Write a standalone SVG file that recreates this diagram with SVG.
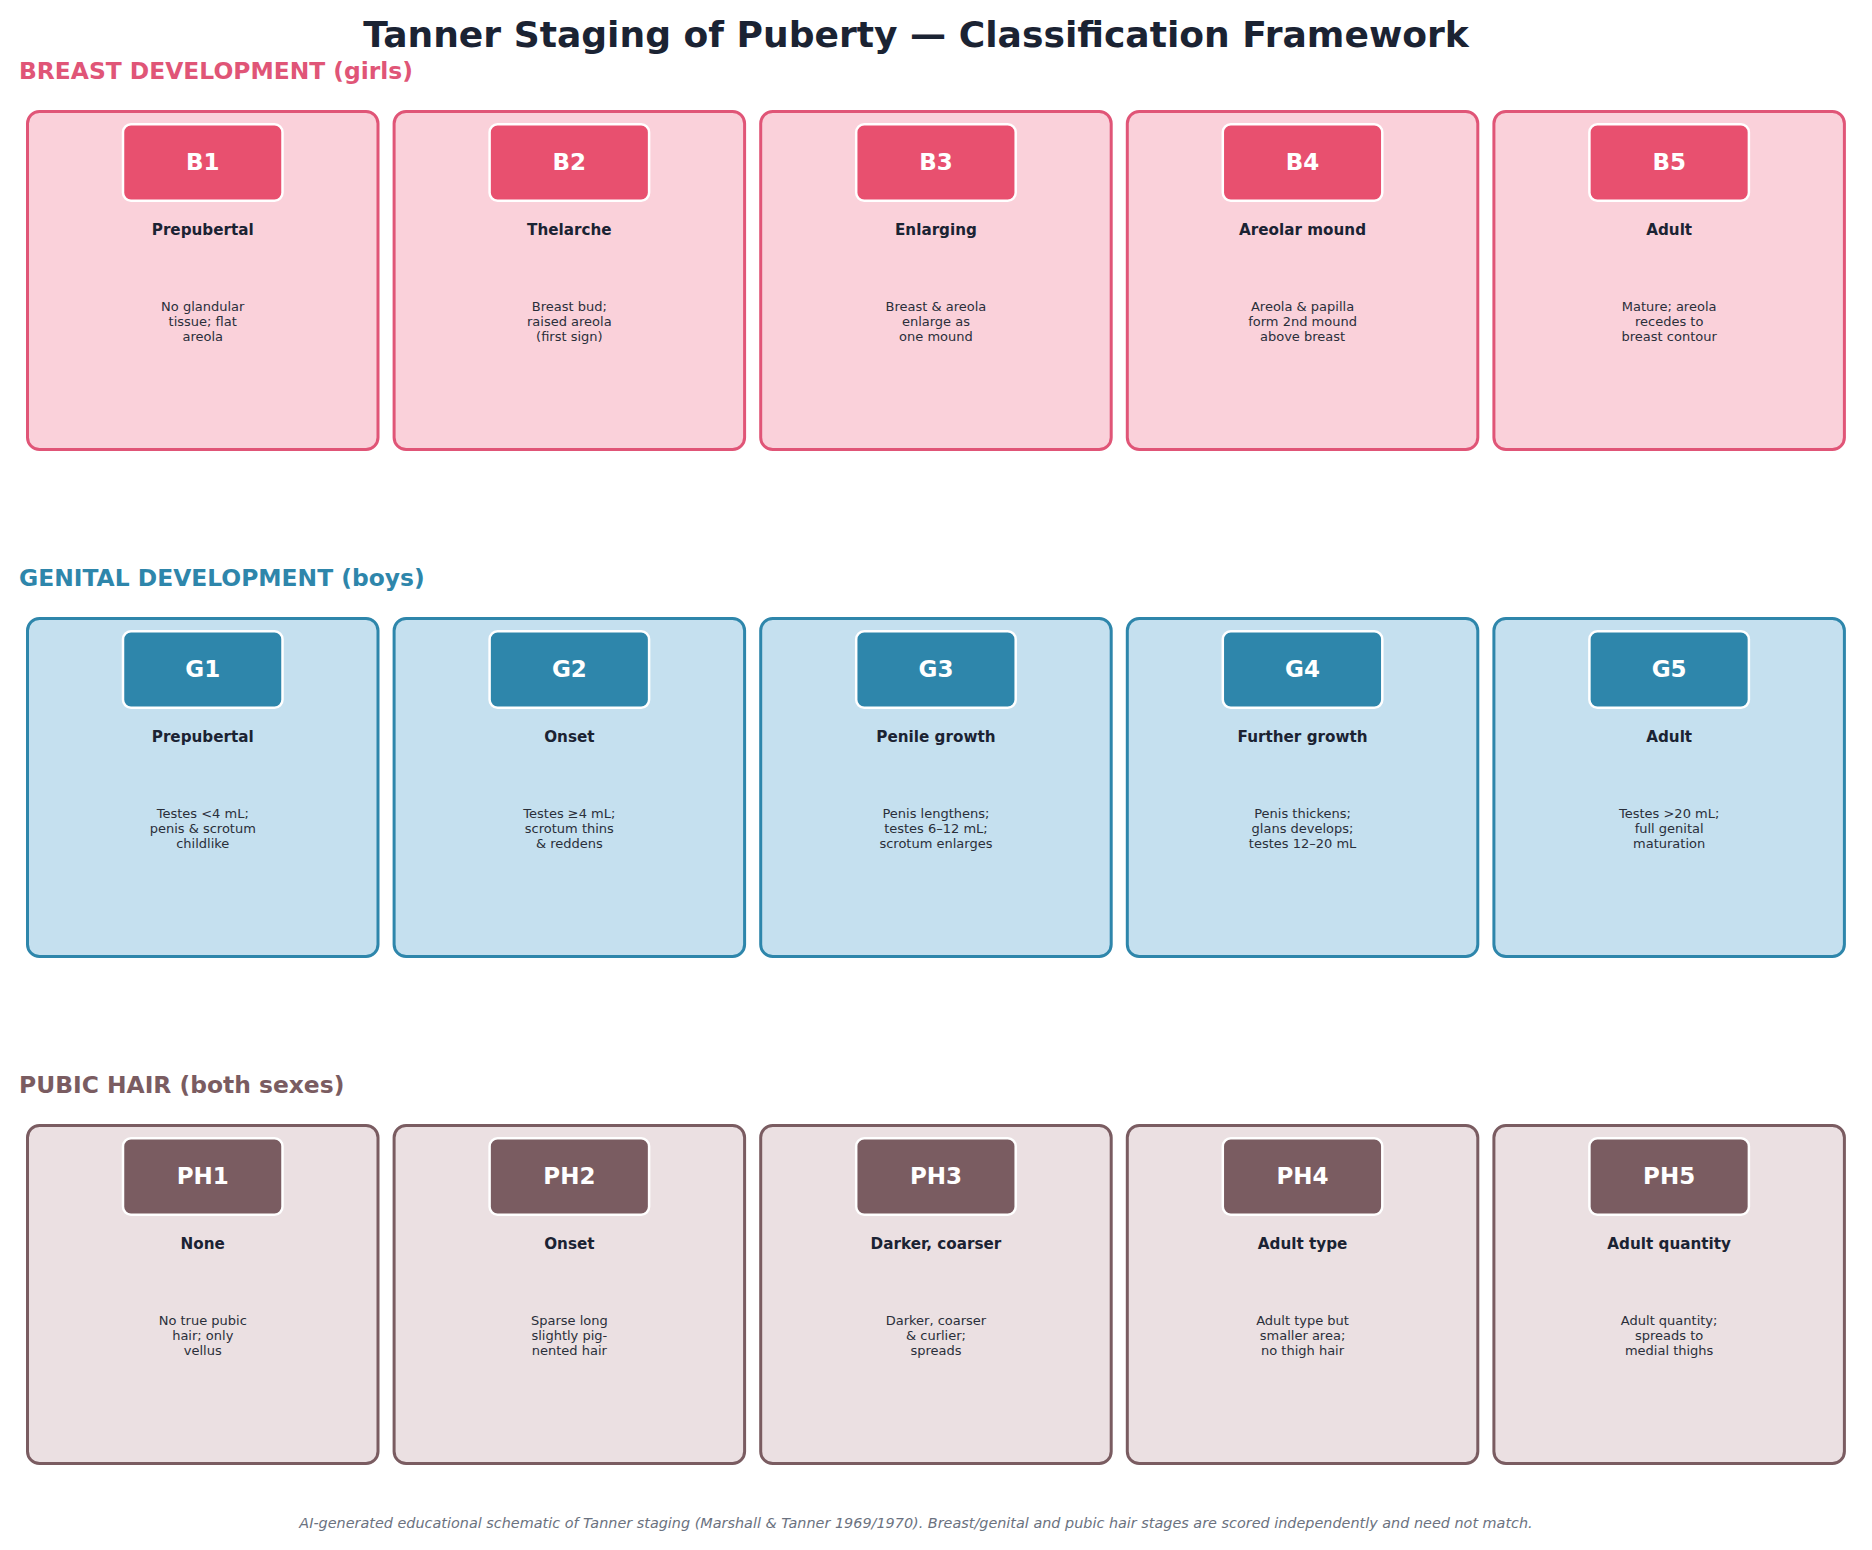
<svg xmlns="http://www.w3.org/2000/svg" width="1872" height="1550" viewBox="0 0 1872 1550">
<style>
text{font-family:"DejaVu Sans","Liberation Sans",sans-serif;text-anchor:middle}
.title{font-size:36.1px;font-weight:bold;fill:#1b2333}
.sec{font-size:23.4px;font-weight:bold;text-anchor:start}
.badge{stroke:#ffffff;stroke-width:2.5}
.btxt{font-size:23px;font-weight:bold;fill:#ffffff}
.stage{font-size:15.2px;font-weight:bold;fill:#1b2333}
.desc{font-size:13px;fill:#2a2f3a}
.foot{font-size:14.4px;font-style:italic;fill:#6b7280}
.card{stroke-width:3}
.pk .card{fill:#fad1da;stroke:#e05577}
.pk .badge{fill:#e8506f}
.bl .card{fill:#c5e0ef;stroke:#2e86ab}
.bl .badge{fill:#2e86ab}
.br .card{fill:#ebe0e2;stroke:#7a5c61}
.br .badge{fill:#7a5c61}
</style>
<rect width="1872" height="1550" fill="#ffffff"/>
<text class="title" x="916" y="47">Tanner Staging of Puberty — Classification Framework</text>

<text class="sec" x="19" y="79" fill="#e05577">BREAST DEVELOPMENT (girls)</text>
<text class="sec" x="19" y="586" fill="#2e86ab">GENITAL DEVELOPMENT (boys)</text>
<text class="sec" x="19" y="1093" fill="#7a5c61">PUBIC HAIR (both sexes)</text>

<g id="connectors"></g>

<!-- Breast row -->
<g class="pk">
<g id="B1"><rect class="card" x="27.5" y="111.5" width="350.5" height="338" rx="12"/><rect class="badge" x="123" y="124.25" width="159.5" height="76.5" rx="8"/><text class="btxt" x="202.75" y="170">B1</text><text class="stage" x="202.75" y="235">Prepubertal</text><text class="desc" x="202.75" y="311">No glandular</text><text class="desc" x="202.75" y="326">tissue; flat</text><text class="desc" x="202.75" y="341">areola</text></g>
<g id="B2"><rect class="card" x="394.1" y="111.5" width="350.5" height="338" rx="12"/><rect class="badge" x="489.6" y="124.25" width="159.5" height="76.5" rx="8"/><text class="btxt" x="569.35" y="170">B2</text><text class="stage" x="569.35" y="235">Thelarche</text><text class="desc" x="569.35" y="311">Breast bud;</text><text class="desc" x="569.35" y="326">raised areola</text><text class="desc" x="569.35" y="341">(first sign)</text></g>
<g id="B3"><rect class="card" x="760.7" y="111.5" width="350.5" height="338" rx="12"/><rect class="badge" x="856.2" y="124.25" width="159.5" height="76.5" rx="8"/><text class="btxt" x="935.95" y="170">B3</text><text class="stage" x="935.95" y="235">Enlarging</text><text class="desc" x="935.95" y="311">Breast &amp; areola</text><text class="desc" x="935.95" y="326">enlarge as</text><text class="desc" x="935.95" y="341">one mound</text></g>
<g id="B4"><rect class="card" x="1127.3" y="111.5" width="350.5" height="338" rx="12"/><rect class="badge" x="1222.8" y="124.25" width="159.5" height="76.5" rx="8"/><text class="btxt" x="1302.55" y="170">B4</text><text class="stage" x="1302.55" y="235">Areolar mound</text><text class="desc" x="1302.55" y="311">Areola &amp; papilla</text><text class="desc" x="1302.55" y="326">form 2nd mound</text><text class="desc" x="1302.55" y="341">above breast</text></g>
<g id="B5"><rect class="card" x="1493.9" y="111.5" width="350.5" height="338" rx="12"/><rect class="badge" x="1589.4" y="124.25" width="159.5" height="76.5" rx="8"/><text class="btxt" x="1669.15" y="170">B5</text><text class="stage" x="1669.15" y="235">Adult</text><text class="desc" x="1669.15" y="311">Mature; areola</text><text class="desc" x="1669.15" y="326">recedes to</text><text class="desc" x="1669.15" y="341">breast contour</text></g>
</g>

<!-- Genital row -->
<g class="bl">
<g id="G1"><rect class="card" x="27.5" y="618.5" width="350.5" height="338" rx="12"/><rect class="badge" x="123" y="631.25" width="159.5" height="76.5" rx="8"/><text class="btxt" x="202.75" y="677">G1</text><text class="stage" x="202.75" y="742">Prepubertal</text><text class="desc" x="202.75" y="818">Testes &lt;4 mL;</text><text class="desc" x="202.75" y="833">penis &amp; scrotum</text><text class="desc" x="202.75" y="848">childlike</text></g>
<g id="G2"><rect class="card" x="394.1" y="618.5" width="350.5" height="338" rx="12"/><rect class="badge" x="489.6" y="631.25" width="159.5" height="76.5" rx="8"/><text class="btxt" x="569.35" y="677">G2</text><text class="stage" x="569.35" y="742">Onset</text><text class="desc" x="569.35" y="818">Testes ≥4 mL;</text><text class="desc" x="569.35" y="833">scrotum thins</text><text class="desc" x="569.35" y="848">&amp; reddens</text></g>
<g id="G3"><rect class="card" x="760.7" y="618.5" width="350.5" height="338" rx="12"/><rect class="badge" x="856.2" y="631.25" width="159.5" height="76.5" rx="8"/><text class="btxt" x="935.95" y="677">G3</text><text class="stage" x="935.95" y="742">Penile growth</text><text class="desc" x="935.95" y="818">Penis lengthens;</text><text class="desc" x="935.95" y="833">testes 6–12 mL;</text><text class="desc" x="935.95" y="848">scrotum enlarges</text></g>
<g id="G4"><rect class="card" x="1127.3" y="618.5" width="350.5" height="338" rx="12"/><rect class="badge" x="1222.8" y="631.25" width="159.5" height="76.5" rx="8"/><text class="btxt" x="1302.55" y="677">G4</text><text class="stage" x="1302.55" y="742">Further growth</text><text class="desc" x="1302.55" y="818">Penis thickens;</text><text class="desc" x="1302.55" y="833">glans develops;</text><text class="desc" x="1302.55" y="848">testes 12–20 mL</text></g>
<g id="G5"><rect class="card" x="1493.9" y="618.5" width="350.5" height="338" rx="12"/><rect class="badge" x="1589.4" y="631.25" width="159.5" height="76.5" rx="8"/><text class="btxt" x="1669.15" y="677">G5</text><text class="stage" x="1669.15" y="742">Adult</text><text class="desc" x="1669.15" y="818">Testes &gt;20 mL;</text><text class="desc" x="1669.15" y="833">full genital</text><text class="desc" x="1669.15" y="848">maturation</text></g>
</g>

<!-- Pubic hair row -->
<g class="br">
<g id="PH1"><rect class="card" x="27.5" y="1125.5" width="350.5" height="338" rx="12"/><rect class="badge" x="123" y="1138.25" width="159.5" height="76.5" rx="8"/><text class="btxt" x="202.75" y="1184">PH1</text><text class="stage" x="202.75" y="1249">None</text><text class="desc" x="202.75" y="1325">No true pubic</text><text class="desc" x="202.75" y="1340">hair; only</text><text class="desc" x="202.75" y="1355">vellus</text></g>
<g id="PH2"><rect class="card" x="394.1" y="1125.5" width="350.5" height="338" rx="12"/><rect class="badge" x="489.6" y="1138.25" width="159.5" height="76.5" rx="8"/><text class="btxt" x="569.35" y="1184">PH2</text><text class="stage" x="569.35" y="1249">Onset</text><text class="desc" x="569.35" y="1325">Sparse long</text><text class="desc" x="569.35" y="1340">slightly pig-</text><text class="desc" x="569.35" y="1355">nented hair</text></g>
<g id="PH3"><rect class="card" x="760.7" y="1125.5" width="350.5" height="338" rx="12"/><rect class="badge" x="856.2" y="1138.25" width="159.5" height="76.5" rx="8"/><text class="btxt" x="935.95" y="1184">PH3</text><text class="stage" x="935.95" y="1249">Darker, coarser</text><text class="desc" x="935.95" y="1325">Darker, coarser</text><text class="desc" x="935.95" y="1340">&amp; curlier;</text><text class="desc" x="935.95" y="1355">spreads</text></g>
<g id="PH4"><rect class="card" x="1127.3" y="1125.5" width="350.5" height="338" rx="12"/><rect class="badge" x="1222.8" y="1138.25" width="159.5" height="76.5" rx="8"/><text class="btxt" x="1302.55" y="1184">PH4</text><text class="stage" x="1302.55" y="1249">Adult type</text><text class="desc" x="1302.55" y="1325">Adult type but</text><text class="desc" x="1302.55" y="1340">smaller area;</text><text class="desc" x="1302.55" y="1355">no thigh hair</text></g>
<g id="PH5"><rect class="card" x="1493.9" y="1125.5" width="350.5" height="338" rx="12"/><rect class="badge" x="1589.4" y="1138.25" width="159.5" height="76.5" rx="8"/><text class="btxt" x="1669.15" y="1184">PH5</text><text class="stage" x="1669.15" y="1249">Adult quantity</text><text class="desc" x="1669.15" y="1325">Adult quantity;</text><text class="desc" x="1669.15" y="1340">spreads to</text><text class="desc" x="1669.15" y="1355">medial thighs</text></g>
</g>

<text class="foot" x="916" y="1528">AI-generated educational schematic of Tanner staging (Marshall &amp; Tanner 1969/1970). Breast/genital and pubic hair stages are scored independently and need not match.</text>
</svg>
